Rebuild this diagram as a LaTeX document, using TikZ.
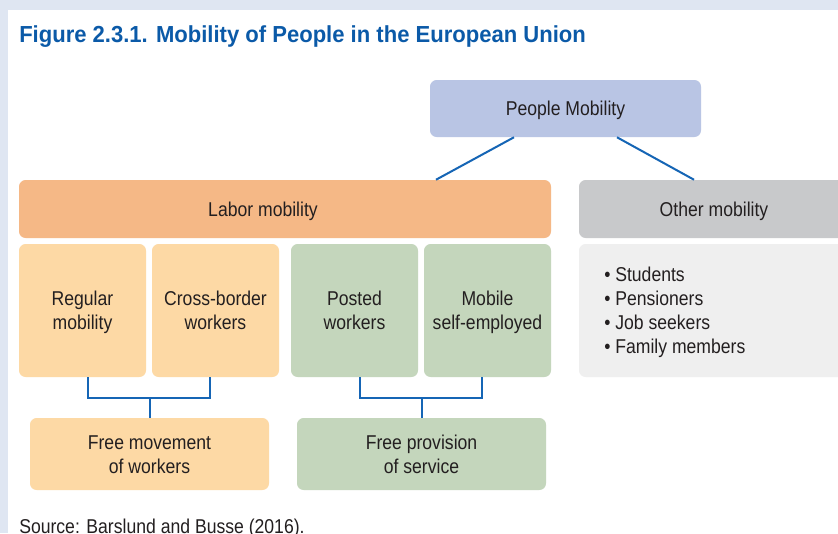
\documentclass[tikz,border=0pt]{standalone}
\usepackage{fontspec}
\setmainfont{Liberation Sans}[FakeStretch=0.88]
\newfontfamily\titlefont{Liberation Sans}[FakeStretch=0.95]
\usepackage{tikz}
\usetikzlibrary{calc}
\definecolor{frame}{HTML}{DFE6F2}
\definecolor{heading}{HTML}{0B5AA8}
\definecolor{ink}{HTML}{231F20}
\definecolor{wirecol}{HTML}{1565B5}
\definecolor{peoplebg}{HTML}{B9C5E4}
\definecolor{laborbg}{HTML}{F5B886}
\definecolor{otherbg}{HTML}{C8C9CB}
\definecolor{workbg}{HTML}{FDD9A5}
\definecolor{servbg}{HTML}{C4D6BC}
\definecolor{listbg}{HTML}{EFEFEF}

\begin{document}
\begin{tikzpicture}[x=0.75pt, y=-0.75pt,
    every node/.style={text=ink, font=\fontsize{15}{18}\selectfont},
    box/.style={rectangle, rounded corners=5pt, align=center, inner sep=0pt,
      text height=11pt, text depth=0pt},
    wide/.style={box, minimum height=43.5pt},
    cell/.style={box, minimum width=95.25pt, minimum height=99.75pt, text height=29pt},
    base/.style={box, minimum height=54pt, text height=29pt},
    wire/.style={draw=wirecol, line width=1.5pt}]
    \useasboundingbox (0,0) rectangle (838,533);
    \fill[frame] (0,0) rectangle (838,533);
    \fill[white] (8,10) rectangle (838,533);

    \node[anchor=base west, inner sep=0pt, text=heading,
      font=\titlefont\bfseries\fontsize{17.4}{20}\selectfont] (title) at (19,42)
      {Figure 2.3.1. Mobility of People in the European Union};

    % top and second level
    \node[box, fill=peoplebg, minimum width=203.25pt, minimum height=42.75pt] (people) at (565.5,108.5) {People Mobility};
    \node[wide, fill=laborbg, minimum width=399pt] (labor) at (285,209) {Labor mobility\hspace*{33pt}};
    \node[wide, fill=otherbg, minimum width=202.5pt] (other) at (714,209) {Other mobility};

    % labor cells
    \node[cell, fill=workbg] (regular) at (82.5,310.5) {Regular\\mobility};
    \node[cell, fill=workbg] (cross) at (215.5,310.5) {Cross-border\\workers};
    \node[cell, fill=servbg] (posted) at (354.5,310.5) {Posted\\workers};
    \node[cell, fill=servbg] (selfemp) at (487.5,310.5) {Mobile\\self-employed};

    % other mobility list
    \node[box, fill=listbg, minimum width=202.5pt, minimum height=99.75pt] (otherlist) at (714,310.5) {};
    \node[anchor=west, align=left, inner sep=0pt, text height=65pt, text depth=0pt] (items) at (604,310.5)
      {\textbullet\ Students\\\textbullet\ Pensioners\\\textbullet\ Job seekers\\\textbullet\ Family members};

    % legal basis
    \node[base, fill=workbg, minimum width=179.25pt] (freework) at (149.5,454) {Free movement\\of workers};
    \node[base, fill=servbg, minimum width=186.75pt] (freeserv) at (421.5,454) {Free provision\\of service};

    % connectors
    \draw[wire] ($(people.south)+(-51.5,0)$) -- ($(labor.north)+(151,0)$);
    \draw[wire] ($(people.south)+(51.5,0)$) -- ($(other.north)+(-20,0)$);
    \draw[wire] ($(regular.south)+(5.5,0)$) -- ++(0,21) -| ($(cross.south)+(-5.5,0)$);
    \draw[wire] (freework.north) -- ++(0,-20);
    \draw[wire] ($(posted.south)+(5.5,0)$) -- ++(0,21) -| ($(selfemp.south)+(-5.5,0)$);
    \draw[wire] (freeserv.north) -- ++(0,-20);

    \node[anchor=base west, inner sep=0pt] (source) at (19,533.5) {Source: Barslund and Busse (2016).};
  \end{tikzpicture}
\end{document}
